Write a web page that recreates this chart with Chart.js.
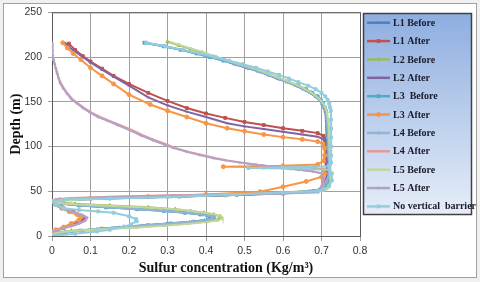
<!DOCTYPE html>
<html>
<head>
<meta charset="utf-8">
<script src="https://cdn.jsdelivr.net/npm/chart.js@4"></script>
<style>
  body { margin: 0; background: #f0f0f0; }
  #wrap { width: 480px; height: 282px; }
</style>
</head>
<body>
<div id="wrap"><canvas id="graph" width="480" height="282"></canvas></div>
<script>
// series names as in the legend
const seriesNames = ['L1 Before', 'L1 After', 'L2 Before', 'L2 After', 'L3  Before', 'L3 After',
  'L4 Before', 'L4 After', 'L5 Before', 'L5 After', 'No vertical  barrier'];

// axis ticks
const concTicks = [0, 0.1, 0.2, 0.3, 0.4, 0.5, 0.6, 0.7, 0.8];
const depthTicks = [0, 50, 100, 150, 200, 250];

// each series: [sulfur concentration (Kg/m3), depth (m)]
const l1Before = [[0.24,216],[0.29,212],[0.335,208],[0.375,204],[0.41,200],[0.445,196],[0.475,192],[0.505,188],[0.535,184],[0.56,180],[0.585,176],[0.61,172],[0.633,168],[0.653,164],[0.67,160],[0.684,156],[0.694,152],[0.701,148],[0.706,144],[0.709,140],[0.712,130],[0.713,120],[0.714,110],[0.714,100],[0.715,90],[0.716,80],[0.716,70],[0.712,62],[0.705,56],[0.695,52],[0.67,50],[0.58,48],[0.45,46],[0.30,44],[0.13,42],[0.02,40],[0.004,38],[0.03,36],[0.08,34],[0.15,32],[0.23,30],[0.30,28],[0.35,26],[0.39,24],[0.412,22],[0.418,20],[0.40,18],[0.36,16],[0.30,14],[0.24,12],[0.18,10],[0.12,8],[0.07,6],[0.03,4],[0.008,2],[0,0]];
const l1After = [[0.044,215],[0.06,208],[0.08,201],[0.10,195],[0.13,187],[0.16,179],[0.2,170],[0.25,160],[0.3,151],[0.35,143],[0.4,137],[0.45,132],[0.5,127.5],[0.55,124],[0.6,120.5],[0.65,117.5],[0.69,115],[0.705,112],[0.71,108],[0.712,100],[0.712,90],[0.713,80],[0.715,72],[0.712,62],[0.705,55],[0.69,50],[0.6,47.5],[0.45,45.5],[0.3,44],[0.15,42.5],[0.05,41],[0.01,39.5],[0,38],[0.01,35],[0.03,31],[0.055,27],[0.075,23],[0.082,20],[0.075,17],[0.055,13],[0.03,9],[0.01,6],[0,4]];
const l2Before = [[0.30,217],[0.33,213],[0.36,209],[0.39,205],[0.42,200.5],[0.45,196.5],[0.48,192.5],[0.51,188.5],[0.54,184.5],[0.565,180.5],[0.59,176.5],[0.613,172.5],[0.636,168.5],[0.656,164.5],[0.673,160.5],[0.687,156.5],[0.697,152.5],[0.704,148.5],[0.709,144],[0.713,139],[0.715,130],[0.716,120],[0.717,110],[0.718,100],[0.72,90],[0.721,80],[0.722,70],[0.72,62],[0.714,56],[0.70,52],[0.67,50],[0.55,48],[0.40,46],[0.25,44],[0.1,42],[0.02,40],[0,38],[0.06,36],[0.15,34],[0.25,32],[0.32,30],[0.36,28],[0.395,26],[0.42,24],[0.437,22],[0.44,20.5],[0.43,18],[0.40,16],[0.35,14],[0.29,12],[0.22,10],[0.13,8],[0.05,6],[0.01,4],[0,2]];
const l2After = [[0.034,216],[0.045,211],[0.06,206],[0.08,200],[0.1,194],[0.13,186],[0.16,178],[0.2,168],[0.25,155],[0.3,146],[0.35,139],[0.4,133],[0.455,126],[0.5,122.5],[0.55,119.5],[0.6,116.5],[0.65,113.5],[0.69,111],[0.705,108],[0.71,104],[0.712,96],[0.713,88],[0.715,80],[0.716,72],[0.712,62],[0.705,55],[0.69,50],[0.55,47],[0.4,45],[0.25,43.5],[0.1,42],[0.02,40.5],[0,39],[0.01,35],[0.03,31],[0.055,27],[0.078,23],[0.085,20],[0.078,17],[0.058,13],[0.03,9],[0.01,6],[0,4]];
const l3Before = [[0.24,216],[0.29,212],[0.335,208],[0.375,204],[0.41,200],[0.445,196],[0.48,192],[0.51,188],[0.54,184],[0.565,180],[0.59,176],[0.615,172],[0.64,168],[0.66,164],[0.676,160],[0.69,156],[0.698,152],[0.704,148],[0.708,144],[0.711,140],[0.714,130],[0.715,120],[0.716,110],[0.716,100],[0.717,90],[0.719,80],[0.72,70],[0.716,62],[0.708,56],[0.698,52],[0.68,50],[0.6,48],[0.48,46],[0.33,44],[0.15,42],[0.03,40],[0.005,38],[0.025,36],[0.07,34],[0.14,32],[0.22,30],[0.29,28],[0.345,26],[0.385,24],[0.41,22],[0.42,20.5],[0.405,18.5],[0.37,16],[0.31,14],[0.25,12],[0.19,10],[0.13,8],[0.075,6],[0.035,4],[0.01,2],[0,0]];
const l3After = [[0.028,216],[0.04,210],[0.055,204],[0.075,197],[0.1,188],[0.13,179],[0.16,170],[0.2,158],[0.255,147],[0.3,140],[0.35,133],[0.4,126],[0.455,120.5],[0.5,117],[0.55,113.5],[0.6,110.5],[0.65,108],[0.69,105.5],[0.704,103],[0.708,98],[0.708,90],[0.705,84],[0.69,80],[0.6,78.5],[0.445,77.5],[0.55,77],[0.68,76.5],[0.705,74],[0.708,70],[0.70,66],[0.66,61],[0.6,55],[0.54,49.5],[0.4,46.5],[0.25,44],[0.1,42],[0.02,40.5],[0,38.5],[0.01,35],[0.025,31],[0.045,27],[0.065,24],[0.075,21],[0.07,18],[0.05,14],[0.03,10],[0.01,7],[0,5]];
const l4Before = [[0.245,216],[0.295,212],[0.34,208],[0.38,204],[0.415,200],[0.45,196],[0.48,192],[0.51,188],[0.538,184],[0.563,180],[0.588,176],[0.612,172],[0.636,168],[0.656,164],[0.672,160],[0.686,156],[0.696,152],[0.703,148],[0.708,144],[0.711,140],[0.714,130],[0.716,120],[0.717,110],[0.718,100],[0.719,90],[0.72,80],[0.72,70],[0.714,62],[0.706,56],[0.696,52],[0.675,50],[0.59,48],[0.46,46],[0.31,44],[0.14,42],[0.025,40],[0.004,38],[0.03,36],[0.075,34],[0.145,32],[0.225,30],[0.295,28],[0.35,26],[0.39,24],[0.415,22],[0.42,20],[0.405,18],[0.365,16],[0.305,14],[0.245,12],[0.185,10],[0.125,8],[0.072,6],[0.032,4],[0.009,2],[0,0]];
const l4After = [[0,216],[0,212],[0.001,207],[0.002,202],[0.004,197],[0.007,192],[0.01,187],[0.014,182],[0.018,176],[0.023,171],[0.031,165],[0.041,159],[0.053,153],[0.068,148],[0.084,143],[0.103,138],[0.125,133],[0.148,129],[0.176,124],[0.21,118],[0.237,112.5],[0.268,107],[0.296,102.5],[0.32,98.5],[0.356,94],[0.39,90.5],[0.426,87],[0.456,84.5],[0.494,82],[0.535,79.5],[0.575,77.5],[0.605,76],[0.645,74],[0.68,72],[0.70,70],[0.706,66],[0.705,60],[0.70,54],[0.692,49.5],[0.6,48],[0.45,46.5],[0.3,45.5],[0.15,44],[0.05,42.5],[0.01,41],[0,39.5],[0.005,36.5],[0.016,33],[0.036,29.5],[0.062,26],[0.082,23],[0.092,20.5],[0.087,17],[0.072,14],[0.05,11],[0.025,8],[0.008,6],[0,5]];
const l5Before = [[0.305,217],[0.335,213],[0.365,209],[0.395,205],[0.425,200.5],[0.455,196.5],[0.485,192.5],[0.515,188.5],[0.543,184.5],[0.568,180.5],[0.593,176.5],[0.616,172.5],[0.638,168.5],[0.657,164.5],[0.673,160.5],[0.686,156.5],[0.696,152.5],[0.704,148.5],[0.71,144],[0.714,139],[0.717,130],[0.719,120],[0.72,110],[0.721,100],[0.722,90],[0.723,80],[0.723,70],[0.723,60],[0.72,54],[0.71,51],[0.68,49],[0.56,47.5],[0.41,45.5],[0.26,43.5],[0.11,41.5],[0.02,39.5],[0,37.5],[0.06,35.5],[0.16,33.5],[0.26,31.5],[0.33,29.5],[0.37,27.5],[0.405,25.5],[0.43,23.5],[0.442,21.5],[0.443,20],[0.432,17.5],[0.40,15.5],[0.35,13.5],[0.29,11.5],[0.22,9.5],[0.13,7.5],[0.05,5.5],[0.01,3.5],[0,2]];
const l5After = [[0,216],[0,212],[0.001,207],[0.002,202],[0.004,197],[0.007,192],[0.01,187],[0.013,182],[0.017,176],[0.021,171],[0.029,165],[0.039,159],[0.05,153],[0.065,148],[0.08,143],[0.099,138],[0.12,133],[0.143,129],[0.17,124],[0.203,118],[0.23,112.5],[0.262,107],[0.29,102.5],[0.314,98.5],[0.35,94],[0.384,90.5],[0.42,87],[0.45,84.5],[0.488,82],[0.53,79.5],[0.57,77.5],[0.6,76],[0.64,74],[0.678,72],[0.70,70],[0.705,66],[0.703,60],[0.698,54],[0.69,49],[0.6,47.5],[0.45,46],[0.3,45],[0.15,43.5],[0.05,42],[0.01,40.5],[0,39],[0.005,36],[0.015,33],[0.035,29.5],[0.06,26],[0.08,23],[0.09,20.5],[0.085,17],[0.07,14],[0.05,11],[0.025,8],[0.008,6],[0,5]];
const noBarrier = [[0.245,216],[0.295,212],[0.34,208],[0.385,204],[0.425,200],[0.46,196],[0.495,192],[0.53,188],[0.56,184],[0.59,180],[0.615,176],[0.64,172],[0.665,168],[0.685,164],[0.70,160],[0.71,156],[0.716,152],[0.72,148],[0.722,144],[0.724,140],[0.725,130],[0.725,120],[0.725,110],[0.725,100],[0.725,90],[0.725,82],[0.72,78],[0.60,76.5],[0.51,76],[0.62,75.5],[0.72,74],[0.727,70],[0.727,62],[0.72,56],[0.705,52],[0.69,50],[0.6,48.5],[0.45,46],[0.3,43.5],[0.15,42],[0.04,41.5],[0.005,39],[0.01,35],[0.03,31],[0.07,29],[0.12,27.5],[0.16,26],[0.2,22],[0.218,19],[0.22,16.5],[0.205,13],[0.187,10.5],[0.15,7],[0.117,5],[0.06,2.5],[0,0]];

const seriesData = [l1Before, l1After, l2Before, l2After, l3Before, l3After, l4Before, l4After, l5Before, l5After, noBarrier];
const seriesColors = ['#4F81BD', '#C0504D', '#9BBB59', '#8064A2', '#4BACC6', '#F79646',
  '#95B3D7', '#E39A98', '#C3D69B', '#B3A2C7', '#93CDDD'];
const seriesMarkers = ['crossRot', 'rect', 'triangle', 'crossRot', 'rect', 'circle', 'cross', 'circle', 'circle', 'cross', 'rect'];
const seriesMarkerSize = [2, 2, 2, 1.5, 2, 2, 2, 0, 0, 1.5, 2];

var datasets = [];
for (let i = 0; i < seriesData.length; i++) {
  datasets.push({
    label: seriesNames[i],
    data: seriesData[i].map(p => ({ x: p[0], y: p[1] })),
    showLine: true,
    borderColor: seriesColors[i],
    backgroundColor: seriesColors[i],
    borderWidth: 2,
    pointStyle: seriesMarkers[i],
    pointRadius: seriesMarkerSize[i],
    pointBorderWidth: 1,
    tension: 0,
    order: seriesData.length - i // later series on top, like the spreadsheet
  });
}

// frame round the whole picture + plot area border
const frame = {
  id: 'frame',
  beforeDraw(chart) {
    const ctx = chart.ctx;
    ctx.save();
    ctx.fillStyle = '#f0f0f0';
    ctx.fillRect(0, 0, 480, 282);
    ctx.fillStyle = '#ffffff';
    ctx.fillRect(3, 3, 474, 275);
    ctx.strokeStyle = '#a0a0a0';
    ctx.lineWidth = 1;
    ctx.strokeRect(3.5, 3.5, 473, 274);
    ctx.restore();
  },
  beforeDatasetsDraw(chart) {
    const a = chart.chartArea, ctx = chart.ctx;
    ctx.save();
    ctx.strokeStyle = '#5a5a5a';
    ctx.lineWidth = 1;
    ctx.strokeRect(a.left + 0.5, a.top + 0.5, a.right - a.left, a.bottom - a.top);
    ctx.restore();
  },
  afterDraw(chart) {
    const ctx = chart.ctx, a = chart.chartArea;
    ctx.save();
    // axis titles
    ctx.fillStyle = '#111';
    ctx.font = 'bold 14px "Liberation Serif"';
    ctx.textAlign = 'center';
    ctx.textBaseline = 'middle';
    ctx.fillText('Sulfur concentration (Kg/m³)', 226, 268);
    ctx.translate(16, (a.top + a.bottom) / 2);
    ctx.rotate(-Math.PI / 2);
    ctx.fillText('Depth (m)', 0, 0);
    ctx.restore();

    // legend box
    ctx.save();
    const x0 = 363.5, y0 = 13.5, w = 108, h = 201;
    const g = ctx.createLinearGradient(0, y0, 0, y0 + h);
    g.addColorStop(0, '#8eaee0');
    g.addColorStop(1, '#e6edf8');
    ctx.fillStyle = g;
    ctx.fillRect(x0, y0, w, h);
    ctx.strokeStyle = '#404040';
    ctx.lineWidth = 1.5;
    ctx.strokeRect(x0, y0, w, h);
    chart.data.datasets.forEach((ds, i) => {
      const y = 22.7 + i * 18.37;
      ctx.strokeStyle = ds.borderColor;
      ctx.lineWidth = 2.5;
      ctx.beginPath();
      ctx.moveTo(367, y);
      ctx.lineTo(390, y);
      ctx.stroke();
      if (ds.pointRadius > 0) {
        ctx.fillStyle = ds.borderColor;
        ctx.lineWidth = 1;
        Chart.helpers.drawPoint(ctx, { pointStyle: ds.pointStyle, radius: ds.pointRadius, rotation: 0, borderWidth: 1 }, 378.5, y);
      }
      ctx.fillStyle = '#1a1a2a';
      ctx.font = 'bold 10px "Liberation Serif"';
      ctx.textAlign = 'left';
      ctx.textBaseline = 'middle';
      ctx.fillText(ds.label, 393, y + 0.5);
    });
    ctx.restore();
  }
};

const config = {
  type: 'scatter',
  data: { datasets: datasets },
  options: {
    responsive: false,
    animation: false,
    layout: { padding: { left: 4, right: 120, top: 11, bottom: 5 } },
    plugins: { legend: { display: false }, tooltip: { enabled: false } },
    scales: {
      x: {
        type: 'linear',
        min: concTicks[0],
        max: concTicks[concTicks.length - 1],
        afterFit: s => { s.height = 41; },
        afterBuildTicks: s => { s.ticks = concTicks.map(v => ({ value: v })); },
        ticks: { padding: 4, color: '#333', font: { family: 'Liberation Sans', size: 10.5 } },
        grid: { color: '#a0a0a0', tickLength: 5, tickColor: '#a0a0a0' },
        border: { color: '#8a8a8a' }
      },
      y: {
        type: 'linear',
        min: depthTicks[0],
        max: depthTicks[depthTicks.length - 1],
        afterFit: s => { s.width = 48; },
        afterBuildTicks: s => { s.ticks = depthTicks.map(v => ({ value: v })); },
        ticks: { padding: 6, color: '#333', font: { family: 'Liberation Sans', size: 10.5 } },
        grid: { color: '#a0a0a0', tickLength: 4, tickColor: '#a0a0a0' },
        border: { color: '#8a8a8a' }
      }
    }
  },
  plugins: [frame]
};

const myChart = new Chart(document.getElementById('graph'), config);
</script>
</body>
</html>
